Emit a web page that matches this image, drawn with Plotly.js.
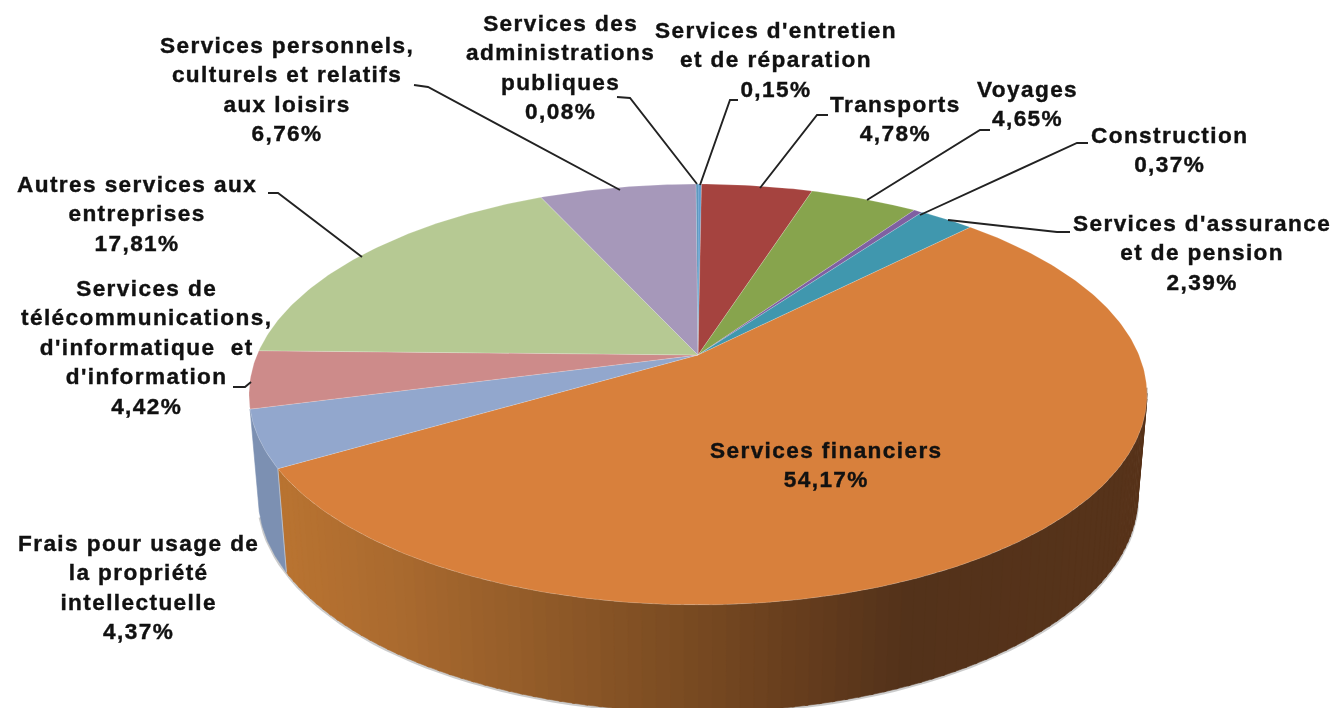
<!DOCTYPE html>
<html>
<head>
<meta charset="utf-8">
<script src="https://cdn.plot.ly/plotly-3.0.1.min.js"></script>
<style>
html,body{margin:0;padding:0;background:#fff;overflow:hidden}
#chart{width:1335px;height:708px;filter:blur(0.55px)}
.annotation-text{letter-spacing:1.4px;stroke:#111;stroke-width:0.4px}
</style>
</head>
<body>
<div id="chart"></div>
<script>
// ---- data (clockwise from the top) ----
var categories = ["Services d'entretien et de réparation","Transports","Voyages","Construction","Services d'assurance et de pension","Services financiers","Frais pour usage de la propriété intellectuelle","Services de télécommunications, d'informatique et d'information","Autres services aux entreprises","Services personnels, culturels et relatifs aux loisirs","Services des administrations publiques"];
var shares = [0.15,4.78,4.65,0.37,2.39,54.17,4.37,4.42,17.81,6.76,0.08];
var shareLabels = ["0,15%","4,78%","4,65%","0,37%","2,39%","54,17%","4,37%","4,42%","17,81%","6,76%","0,08%"];
var labelLines = [
  ["Services d'entretien","et de réparation"],
  ["Transports"],
  ["Voyages"],
  ["Construction"],
  ["Services d'assurance","et de pension"],
  ["Services financiers"],
  ["Frais pour usage de","la propriété","intellectuelle"],
  ["Services de","télécommunications,","d'informatique  et","d'information"],
  ["Autres services aux","entreprises"],
  ["Services personnels,","culturels et relatifs","aux loisirs"],
  ["Services des","administrations","publiques"]
];

// ---- styles and layout ----
var topColors = ["#5f9ccc","#a5433f","#87a44d","#7f60a2","#4097ae","#d8803c","#92a7cd","#cd8b8a","#b6c993","#a698ba","#4f8fb8"];
var wallColors = {6:"#7c90b2"};
var labelX = [776,895,1027,1169,1202,826,138,146,137,287,560];
var labelY = [60,119,104,150,253,465,587,347,214,89,67];
var leaders = [
  [[700,185],[730,100],[738,100]],
  [[760,188],[817,115],[828,115]],
  [[867,200],[980,130],[990,130]],
  [[920,215],[1077,143],[1088,143]],
  [[948,220],[1057,232],[1070,232]],
  null,
  null,
  [[233,387],[245,387],[251,382]],
  [[268,193],[278,193],[362,257]],
  [[414,85],[428,87],[620,190]],
  [[617,97],[630,98],[697,184]]
];
var rampX = [280,400,550,700,800,900,1147];
var rampC = [[186,116,49],[170,106,47],[144,90,40],[119,73,33],[102,61,29],[83,50,26],[87,51,26]];

// projection of the tilted disc (top face and bottom face)
var K = 0.1877;
var topFace = {cx:698, cy:355, a:441, b:203};
var botFace = {cx:698, cy:456, a:432, b:208};
function project(deg, f){
  var r = deg*Math.PI/180, x = Math.sin(r), y = Math.cos(r), w = 1+K*y;
  return [f.cx + f.a*x/w, f.cy - f.b*y/w];
}
function ramp(px){
  for(var i=0;i<rampX.length-1;i++){
    if(px<=rampX[i+1]){
      var u=Math.max(0,(px-rampX[i])/(rampX[i+1]-rampX[i]));
      var c=rampC[i].map(function(v,j){return Math.round(v+(rampC[i+1][j]-v)*u);});
      return 'rgb('+c.join(',')+')';
    }
  }
  return 'rgb('+rampC[rampC.length-1].join(',')+')';
}

var total = shares.reduce(function(a,b){return a+b;},0);
var start = [], acc = 0;
shares.forEach(function(v){ start.push(acc/total*360); acc += v; });
function endOf(i){ return start[i] + shares[i]/total*360; }

var traces = [];

// soft shadow below the wall
(function(){
  var xs=[],ys=[];
  for(var t=100;t<=start[7];t+=2){var p=project(t,botFace);xs.push(p[0]);ys.push(p[1]+1);}
  traces.push({type:'scatter',mode:'lines',x:xs,y:ys,line:{color:'rgba(110,110,110,0.35)',width:3},hoverinfo:'skip',showlegend:false});
})();

// side wall, built from the slice angles
function wallStrip(a,b,color){
  var xs=[],ys=[],t,p,steps=Math.max(1,Math.ceil((b-a)/0.5));
  for(t=0;t<=steps;t++){p=project(a+(b-a)*t/steps,topFace);xs.push(p[0]);ys.push(p[1]);}
  for(t=steps;t>=0;t--){p=project(a+(b-a)*t/steps,botFace);xs.push(p[0]);ys.push(p[1]);}
  xs.push(xs[0]);ys.push(ys[0]);
  traces.push({type:'scatter',mode:'lines',x:xs,y:ys,fill:'toself',fillcolor:color,line:{color:color,width:0.6},hoverinfo:'skip',showlegend:false});
}
var finA = Math.max(start[5],99), finB = endOf(5);
for(var a=finA;a<finB;a+=1.5){
  var b=Math.min(a+1.5,finB);
  var mid=project((a+b)/2,botFace)[0];
  wallStrip(a,b+0.3>finB?finB:b+0.3,ramp(mid));
}
wallStrip(start[6],endOf(6),wallColors[6]);
var tp=project(start[6],topFace),bp=project(start[6],botFace);
traces.push({type:'scatter',mode:'lines',x:[tp[0],bp[0]],y:[tp[1],bp[1]],line:{color:'rgba(225,225,225,0.7)',width:0.8},hoverinfo:'skip',showlegend:false});

// top face
shares.forEach(function(v,i){
  var a=start[i], b=endOf(i), xs=[topFace.cx], ys=[topFace.cy];
  var steps=Math.max(2,Math.ceil((b-a)/0.75));
  for(var s=0;s<=steps;s++){var p=project(a+(b-a)*s/steps,topFace);xs.push(p[0]);ys.push(p[1]);}
  xs.push(topFace.cx);ys.push(topFace.cy);
  traces.push({type:'scatter',mode:'lines',x:xs,y:ys,fill:'toself',fillcolor:topColors[i],
    line:{color:'rgba(255,255,255,0.22)',width:0.8},name:categories[i],
    text:categories[i]+' '+shareLabels[i],hoverinfo:'text',hoveron:'fills',showlegend:false});
});

// labels
var annotations = labelLines.map(function(lines,i){
  return {x:labelX[i],y:labelY[i],xref:'x',yref:'y',xanchor:'center',yanchor:'middle',align:'center',showarrow:false,
    text:lines.concat([shareLabels[i]]).join('<br>'),
    font:{family:'"Liberation Sans", Arial, sans-serif',size:22.6,color:'#111',weight:700}};
});

// leader lines
var shapes = leaders.filter(Boolean).map(function(pts){
  return {type:'path',xref:'x',yref:'y',line:{color:'#222',width:1.9},
    path:pts.map(function(p,j){return (j?'L':'M')+p[0]+','+p[1];}).join(' ')};
});

Plotly.newPlot('chart',traces,{
  width:1335,height:708,autosize:false,
  margin:{l:0,r:0,t:0,b:0,pad:0},
  paper_bgcolor:'#fff',plot_bgcolor:'#fff',showlegend:false,
  xaxis:{range:[0,1335],visible:false,fixedrange:true},
  yaxis:{range:[708,0],visible:false,fixedrange:true},
  annotations:annotations,shapes:shapes
},{displayModeBar:false,responsive:false});
</script>
</body>
</html>
